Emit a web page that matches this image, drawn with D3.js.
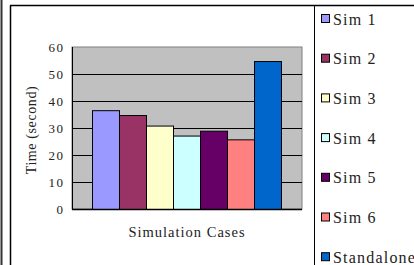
<!DOCTYPE html>
<html>
<head>
<meta charset="utf-8">
<script src="https://cdn.jsdelivr.net/npm/d3@7"></script>
<style>
  body { margin: 0; background: #fff; }
  svg { display: block; }
</style>
</head>
<body>
<script>
// chart data
var categories = ["Sim 1", "Sim 2", "Sim 3", "Sim 4", "Sim 5", "Sim 6", "Standalone"];
var times = [36.6, 34.8, 30.9, 27.2, 29.0, 25.8, 54.8];
var colours = ["#9999FF", "#993366", "#FFFFCC", "#CCFFFF", "#660066", "#FF8080", "#0066CC"];
var yTicks = [0, 10, 20, 30, 40, 50, 60];

var width = 414,
    height = 265;

var font = "'Liberation Serif', 'DejaVu Serif', serif";

var svg = d3.select("body")
            .append("svg")
            .attr("width", width)
            .attr("height", height);

// outer frame lines
svg.append("rect").attr("x", 0.5).attr("y", 0).attr("width", 2).attr("height", height).attr("fill", "#333");
svg.append("line").attr("x1", 10.5).attr("x2", 10.5).attr("y1", 5.5).attr("y2", height)
   .attr("stroke", "#000").attr("stroke-width", 1.5);
svg.append("line").attr("x1", 10).attr("x2", width).attr("y1", 5.5).attr("y2", 5.5)
   .attr("stroke", "#000").attr("stroke-width", 1.5);
svg.append("line").attr("x1", 314.5).attr("x2", 314.5).attr("y1", 6).attr("y2", height)
   .attr("stroke", "#000").attr("stroke-width", 1);

// plot area
var plot = { left: 72, right: 302, top: 47, bottom: 209 };

var y = d3.scaleLinear().domain([0, 60]).range([plot.bottom, plot.top]);
var x = d3.scaleBand().domain(categories).range([92, 281]).padding(0);

svg.append("rect")
   .attr("x", plot.left).attr("y", plot.top)
   .attr("width", plot.right - plot.left).attr("height", plot.bottom - plot.top)
   .attr("fill", "#C0C0C0")
   .attr("stroke", "#808080");

// gridlines
svg.selectAll("line.grid")
   .data(yTicks.slice(1, -1))
   .enter()
   .append("line")
   .attr("class", "grid")
   .attr("x1", plot.left).attr("x2", plot.right)
   .attr("y1", function(d) { return Math.round(y(d)) + 0.5; })
   .attr("y2", function(d) { return Math.round(y(d)) + 0.5; })
   .attr("stroke", "#000");

// bars
svg.selectAll("rect.bar")
   .data(times)
   .enter()
   .append("rect")
   .attr("class", "bar")
   .attr("x", function(d, i) { return x(categories[i]) + 0.5; })
   .attr("y", function(d) { return y(d) + 0.5; })
   .attr("width", x.bandwidth())
   .attr("height", function(d) { return y(0) - y(d); })
   .attr("fill", function(d, i) { return colours[i]; })
   .attr("stroke", "#000");

// axis base line
svg.append("line")
   .attr("x1", plot.left).attr("x2", plot.right)
   .attr("y1", plot.bottom + 0.5).attr("y2", plot.bottom + 0.5)
   .attr("stroke", "#000").attr("stroke-width", 1.5);
svg.append("line")
   .attr("x1", plot.left + 0.5).attr("x2", plot.left + 0.5)
   .attr("y1", plot.top).attr("y2", plot.bottom)
   .attr("stroke", "#000");

// y tick labels
svg.selectAll("text.ytick")
   .data(yTicks)
   .enter()
   .append("text")
   .attr("class", "ytick")
   .attr("x", 64.5)
   .attr("y", function(d) { return y(d); })
   .attr("dy", "0.35em")
   .attr("text-anchor", "end")
   .style("font-family", font)
   .style("font-size", "13px")
   .style("letter-spacing", "1.5px")
   .style("fill", "#222")
   .text(function(d) { return d; });

// axis titles
svg.append("text")
   .attr("transform", "translate(36," + ((plot.top + plot.bottom) / 2 + 2) + ") rotate(-90)")
   .attr("text-anchor", "middle")
   .style("font-family", font)
   .style("font-size", "14px")
   .style("letter-spacing", "0.6px")
   .style("fill", "#222")
   .text("Time (second)");

svg.append("text")
   .attr("x", (plot.left + plot.right) / 2)
   .attr("y", 237)
   .attr("text-anchor", "middle")
   .style("font-family", font)
   .style("font-size", "14.5px")
   .style("letter-spacing", "1px")
   .style("fill", "#222")
   .text("Simulation Cases");

// legend
var legend = svg.selectAll("g.legend")
   .data(categories)
   .enter()
   .append("g")
   .attr("class", "legend")
   .attr("transform", function(d, i) { return "translate(321," + (18 + i * 39.7) + ")"; });

legend.append("rect")
   .attr("x", 0.5).attr("y", -3.5)
   .attr("width", 8).attr("height", 8)
   .attr("fill", function(d, i) { return colours[i]; })
   .attr("stroke", "#000");

legend.append("text")
   .attr("x", 12)
   .attr("y", 1)
   .attr("dy", "0.35em")
   .style("font-family", font)
   .style("font-size", "16px")
   .style("letter-spacing", "1.2px")
   .style("fill", "#222")
   .text(function(d) { return d; });
</script>
</body>
</html>
